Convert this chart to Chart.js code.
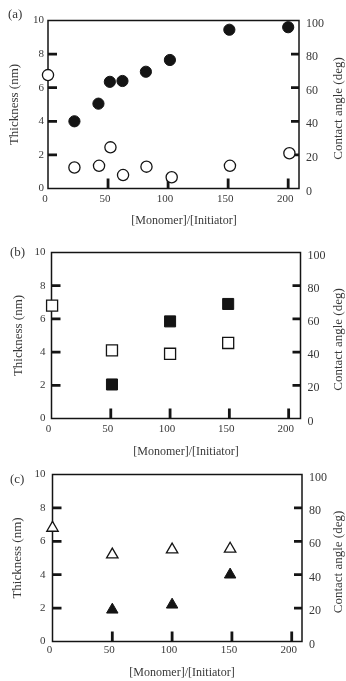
<!DOCTYPE html>
<html>
<head>
<meta charset="utf-8">
<script src="https://cdn.jsdelivr.net/npm/chart.js@4.4.1/dist/chart.umd.min.js"></script>
<style>
  body { margin: 0; background: #fff; }
  #quadro { position: relative; width: 346px; height: 681px; overflow: hidden; background: #fff; }
  #quadro canvas { position: absolute; left: 0; }
</style>
</head>
<body>
<div id="quadro">
  <canvas id="grafA" width="346" height="232" style="top:0px"></canvas>
  <canvas id="grafB" width="346" height="234" style="top:226px"></canvas>
  <canvas id="grafC" width="346" height="230" style="top:451px"></canvas>
</div>
<script>
// ticks dos eixos
var xTicks = [0, 50, 100, 150, 200];
var espTicks = [0, 2, 4, 6, 8, 10];
var angTicks = [0, 20, 40, 60, 80, 100];

// (a) circulos - espessura (cheios) e angulo de contato (vazios)
var razaoA = [22, 42, 51.5, 62, 81.5, 101.5, 151, 200];
var espessuraA = [4.0, 5.05, 6.35, 6.4, 6.95, 7.65, 9.45, 9.6];
var razaoA2 = [0, 22, 42.5, 52, 62.5, 82, 103, 151.5, 201];
var anguloA = [67.5, 12.5, 13.5, 24.5, 8, 13, 6.7, 13.5, 21];

// (b) quadrados
var razaoB = [51, 100, 149];
var espessuraB = [2.05, 5.85, 6.9];
var razaoB2 = [0.5, 51, 100, 149];
var anguloB = [68, 41, 39, 45.5];

// (c) triangulos
var razaoC = [50, 100, 148.5];
var espessuraC = [1.9, 2.2, 4.0];
var razaoC2 = [0, 50, 100, 148.5];
var anguloC = [68, 52, 55, 55.5];

var fonte = 'Liberation Serif, Times New Roman, serif';
var corTexto = '#383838';
var corPreta = '#141414';

function pontos(xs, ys) {
  return xs.map(function (x, i) { return { x: x, y: ys[i] }; });
}

function fixaTicks(lista) {
  return function (scale) {
    scale.ticks = lista.map(function (v) { return { value: v }; });
  };
}

// moldura, ticks para dentro e textos extras
var moldura = {
  id: 'moldura',
  beforeDatasetsDraw: function (chart) {
    var ctx = chart.ctx, a = chart.chartArea, s = chart.scales;
    ctx.save();
    ctx.strokeStyle = corPreta;
    ctx.lineWidth = 1.5;
    ctx.strokeRect(a.left, a.top, a.right - a.left, a.bottom - a.top);
    ctx.lineWidth = 2.8;
    ctx.beginPath();
    s.y.ticks.forEach(function (t) {
      if (t.value <= s.y.min || t.value >= s.y.max) return;
      var p = s.y.getPixelForValue(t.value);
      ctx.moveTo(a.left, p); ctx.lineTo(a.left + 9, p);
    });
    s.y2.ticks.forEach(function (t) {
      if (t.value <= s.y2.min || t.value >= s.y2.max) return;
      var p = s.y2.getPixelForValue(t.value);
      ctx.moveTo(a.right, p); ctx.lineTo(a.right - 8, p);
    });
    s.x.ticks.forEach(function (t) {
      if (t.value <= s.x.min) return;
      var p = s.x.getPixelForValue(t.value);
      ctx.moveTo(p, a.bottom); ctx.lineTo(p, a.bottom - 10);
    });
    ctx.stroke();
    ctx.restore();
  },
  afterDraw: function (chart, args, opts) {
    var ctx = chart.ctx, a = chart.chartArea;
    ctx.save();
    ctx.fillStyle = corTexto;
    ctx.font = '13px ' + fonte;
    ctx.textBaseline = 'middle';
    ctx.textAlign = 'left';
    ctx.fillText(opts.letra, opts.letraX, opts.letraY);
    ctx.textAlign = 'center';
    ctx.font = '12px ' + fonte;
    ctx.fillText('[Monomer]/[Initiator]', opts.tituloX, opts.tituloY);
    ctx.font = '13px ' + fonte;
    ctx.translate(339, (a.top + a.bottom) / 2 + 4);
    ctx.rotate(-Math.PI / 2);
    ctx.fillText('Contact angle (deg)', 0, 0);
    ctx.restore();
  }
};

function montaGrafico(id, geo, conjuntos) {
  var altura = document.getElementById(id).height;
  return new Chart(document.getElementById(id), {
    type: 'scatter',
    data: { datasets: conjuntos },
    options: {
      responsive: false,
      animation: false,
      devicePixelRatio: 1,
      events: [],
      layout: { padding: { top: geo.topo, left: 0, right: 0, bottom: 0 } },
      plugins: {
        legend: { display: false },
        tooltip: { enabled: false },
        moldura: geo.textos
      },
      scales: {
        x: {
          type: 'linear', min: 0, max: geo.xMax,
          afterBuildTicks: fixaTicks(xTicks),
          afterFit: function (s) { s.height = altura - geo.base; },
          grid: { display: false, drawTicks: false }, border: { display: false },
          ticks: { font: { family: fonte, size: 11 }, color: corTexto, padding: geo.xPad,
                   labelOffset: -3, maxRotation: 0, autoSkip: false }
        },
        y: {
          position: 'left', min: 0, max: 10,
          afterBuildTicks: fixaTicks(espTicks),
          afterFit: function (s) { s.width = geo.esq; },
          grid: { display: false, drawTicks: false }, border: { display: false },
          ticks: { font: { family: fonte, size: 11 }, color: corTexto, padding: geo.yPad },
          title: { display: true, text: 'Thickness (nm)', color: corTexto,
                   font: { family: fonte, size: 13 }, padding: { top: geo.tituloPad, bottom: 0 } }
        },
        y2: {
          position: 'right', min: 0, max: 100,
          afterBuildTicks: fixaTicks(angTicks),
          afterFit: function (s) { s.width = 346 - geo.dir; },
          grid: { display: false, drawTicks: false }, border: { display: false },
          ticks: { font: { family: fonte, size: 12 }, color: corTexto, padding: 7, labelOffset: 3 }
        }
      }
    },
    plugins: [moldura]
  });
}

function serie(xs, ys, eixo, estilo, cheio, raio) {
  return {
    data: pontos(xs, ys),
    yAxisID: eixo,
    pointStyle: estilo,
    pointRadius: raio,
    pointBackgroundColor: cheio ? corPreta : '#ffffff',
    pointBorderColor: corPreta,
    pointBorderWidth: cheio ? 1 : 1.3,
    clip: false
  };
}

montaGrafico('grafA',
  { topo: 20.5, base: 188.5, esq: 48, dir: 299, xMax: 209, xPad: 4, yPad: 4, tituloPad: 7.2,
    textos: { letra: '(a)', letraX: 8, letraY: 15, tituloX: 184, tituloY: 221 } },
  [serie(razaoA2, anguloA, 'y2', 'circle', false, 5.6),
   serie(razaoA, espessuraA, 'y', 'circle', true, 5.6)]);

montaGrafico('grafB',
  { topo: 26.5, base: 192.5, esq: 51.5, dir: 300.5, xMax: 210, xPad: 4, yPad: 6, tituloPad: 11.2,
    textos: { letra: '(b)', letraX: 10, letraY: 27, tituloX: 186, tituloY: 226 } },
  [serie(razaoB2, anguloB, 'y2', 'rect', false, 7.8),
   serie(razaoB, espessuraB, 'y', 'rect', true, 7.8)]);

montaGrafico('grafC',
  { topo: 23.5, base: 190.5, esq: 52.5, dir: 302, xMax: 208.6, xPad: 2, yPad: 7, tituloPad: 10.2,
    textos: { letra: '(c)', letraX: 10, letraY: 29, tituloX: 182, tituloY: 221.7 } },
  [serie(razaoC2, anguloC, 'y2', 'triangle', false, 6.6),
   serie(razaoC, espessuraC, 'y', 'triangle', true, 6.6)]);
</script>
</body>
</html>
